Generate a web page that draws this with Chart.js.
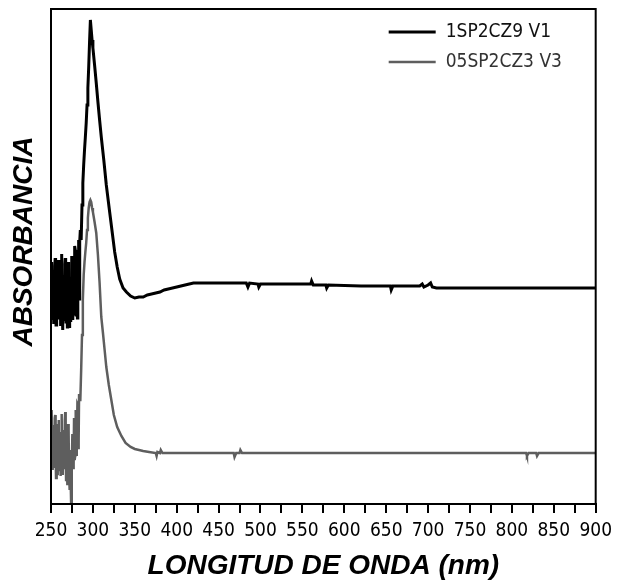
<!DOCTYPE html>
<html>
<head>
<meta charset="utf-8">
<script src="https://cdn.jsdelivr.net/npm/chart.js@4/dist/chart.umd.min.js"></script>
<style>
  html, body { margin: 0; padding: 0; background: #fff; }
  #wrap { width: 619px; height: 583px; }
</style>
</head>
<body>
<div id="wrap"><canvas id="c" width="619" height="583"></canvas></div>
<script>
// ---- data (absorbance in arbitrary units) ----
const seriesLabels = ['1SP2CZ9 V1', '05SP2CZ3 V3'];

const nmA = [250,250.5,251,251.5,252,252.5,253,253.5,254,254.5,255,255.5,256,256.5,257,257.5,258,258.5,259,259.5,260,260.5,261,261.5,262,262.5,263,263.5,264,264.5,265,265.5,266,266.5,267,267.5,268,268.5,269,269.5,270,270.5,271,271.5,272,272.5,273,273.5,274,274.5,275,275.5,276,276.5,277,277.5,278,278.5,279,279.5,280,280.5,281,281.5,282,282.5,283,283.5,284,284.5,285,
  286,287,288,289,290,291,292,293,294,295,296,297,298,299,300,302,304,306,308,310,313,316,320,323,326,329,332,336,340,345,350,355,360,365,370,375,380,385,390,395,400,410,
  420,450,483,485,487,497,498,500,540,560,561,563,578,579,581,620,655,656,658,690,693,695,700,703,705,710,800,900];
const absA = [204,230,242,196,184,226,234,180,194,238,246,200,179,215,229,188,199,244,239,192,186,230,224,178,204,250,236,190,174,212,229,183,194,240,246,196,182,228,222,177,198,236,242,189,176,220,214,182,192,248,234,200,184,226,219,190,204,258,254,195,189,236,229,186,204,252,264,205,214,262,274,
  264,299,321,339,354,367,381,399,416,437,462,484,474,464,456,439,421,402,384,367,344,319,292,272,252,237,225,216,212,208,206,207,207,209,210,211,212,214,215,216,217,219,
  221,221,221,217,221,220,217,220,220,220,223,219,219,216,219,218,218,214,218,218,220,217,219,221,217,216,216,216];

const nmB = [250,250.5,251,251.5,252,252.5,253,253.5,254,254.5,255,255.5,256,256.5,257,257.5,258,258.5,259,259.5,260,260.5,261,261.5,262,262.5,263,263.5,264,264.5,265,265.5,266,266.5,267,267.5,268,268.5,269,269.5,270,270.5,271,271.5,272,272.5,273,273.5,274,274.5,275,275.5,276,276.5,277,277.5,278,278.5,279,279.5,280,280.5,281,281.5,282,282.5,283,283.5,284,
  285,286,287,288,289,290,291,292,293,294,295,296,297,298,299,300,302,304,306,308,310,312,314,316,319,322,325,329,334,339,345,350,355,360,367,375,376,377,380,381,383,
  420,468,469,471,475,476,478,600,700,817,818,820,829,830,832,900];
const absB = [64,40,94,58,34,70,79,36,49,86,89,52,26,60,69,30,44,80,84,47,34,72,64,28,49,90,86,42,29,66,74,35,39,84,92,50,24,58,64,20,34,80,74,32,14,48,54,22,1,30,34,70,64,36,39,86,79,44,49,94,89,48,54,100,99,56,64,110,104,
  104,134,169,204,229,242,252,261,274,286,296,302,304,302,296,292,282,271,249,221,187,171,154,137,119,104,89,77,68,61,57,55,54,53,52,51,48,52,51,54,51,
  51,51,47,51,51,54,51,51,51,51,48,51,51,48,51,51];

const xMin = 250, xMax = 900, xStep = 25, xLabelStep = 50;
const xTitle = 'LONGITUD DE ONDA (nm)';
const yTitle = 'ABSORBANCIA';

// ---- chart ----
const narrow = "'Liberation Sans Narrow', 'DejaVu Sans Condensed', 'Arial Narrow', sans-serif";
const boldFont = "'Liberation Sans', Arial, sans-serif";
const colors = ['#000000', '#5e5e5e'];
const widths = [3, 2.5];

const framePlugin = {
  id: 'frame',
  afterDatasetsDraw(chart) {
    const {ctx, chartArea: a} = chart;
    ctx.save();
    ctx.strokeStyle = '#000';
    ctx.lineWidth = 2;
    ctx.strokeRect(a.left, a.top, a.right - a.left, a.bottom - a.top);
    ctx.restore();
  }
};

const yTitlePlugin = {
  id: 'yTitle',
  afterDraw(chart) {
    const {ctx, chartArea: a} = chart;
    ctx.save();
    ctx.translate(a.left - 27, (a.top + a.bottom) / 2 - 15);
    ctx.rotate(-Math.PI / 2);
    ctx.font = "italic bold 28px " + boldFont;
    ctx.fillStyle = '#000';
    ctx.textAlign = 'center';
    ctx.textBaseline = 'middle';
    ctx.fillText(yTitle, 0, 0);
    ctx.restore();
  }
};

const legendPlugin = {
  id: 'insideLegend',
  afterDraw(chart) {
    const {ctx, chartArea: a} = chart;
    ctx.save();
    ctx.font = "19px " + narrow;
    ctx.textBaseline = 'middle';
    ctx.textAlign = 'left';
    chart.data.datasets.forEach((ds, i) => {
      const y = a.top + 23 + i * 30;
      ctx.strokeStyle = ds.borderColor;
      ctx.lineWidth = i === 0 ? 3 : 2.5;
      ctx.beginPath();
      ctx.moveTo(a.right - 207, y);
      ctx.lineTo(a.right - 160, y);
      ctx.stroke();
      ctx.fillStyle = i === 0 ? '#111' : '#333';
      ctx.fillText(ds.label, a.right - 150, y);
    });
    ctx.restore();
  }
};

new Chart(document.getElementById('c'), {
  type: 'line',
  data: {
    datasets: [
      { label: seriesLabels[0], data: nmA.map((x, i) => ({x, y: absA[i]})), borderColor: colors[0], borderWidth: widths[0], pointRadius: 0, tension: 0, fill: false },
      { label: seriesLabels[1], data: nmB.map((x, i) => ({x, y: absB[i]})), borderColor: colors[1], borderWidth: widths[1], pointRadius: 0, tension: 0, fill: false }
    ]
  },
  options: {
    responsive: false,
    animation: false,
    devicePixelRatio: 1,
    layout: { padding: { top: 9, right: 17, left: 0, bottom: 0 } },
    plugins: { legend: { display: false }, tooltip: { enabled: false } },
    scales: {
      x: {
        type: 'linear',
        min: xMin, max: xMax,
        afterFit(s) { s.height = 79; },
        border: { display: true, color: '#000', width: 2 },
        grid: { display: true, drawOnChartArea: false, drawTicks: true, tickLength: 9, color: '#000', lineWidth: 2 },
        ticks: {
          stepSize: xStep, autoSkip: false, maxRotation: 0, minRotation: 0, padding: 7,
          color: '#000', font: { family: narrow, size: 19 },
          callback: v => (v % xLabelStep === 0 ? String(v) : '')
        },
        title: { display: true, text: xTitle, color: '#000', padding: { top: 0, bottom: 0 },
          font: { family: boldFont, size: 28, weight: 'bold', style: 'italic' } }
      },
      y: {
        min: 0, max: 495,
        afterFit(s) { s.width = 51; },
        border: { display: true, color: '#000', width: 2 },
        grid: { display: false },
        ticks: { display: false },
        title: { display: false }
      }
    }
  },
  plugins: [framePlugin, yTitlePlugin, legendPlugin]
});
</script>
</body>
</html>
